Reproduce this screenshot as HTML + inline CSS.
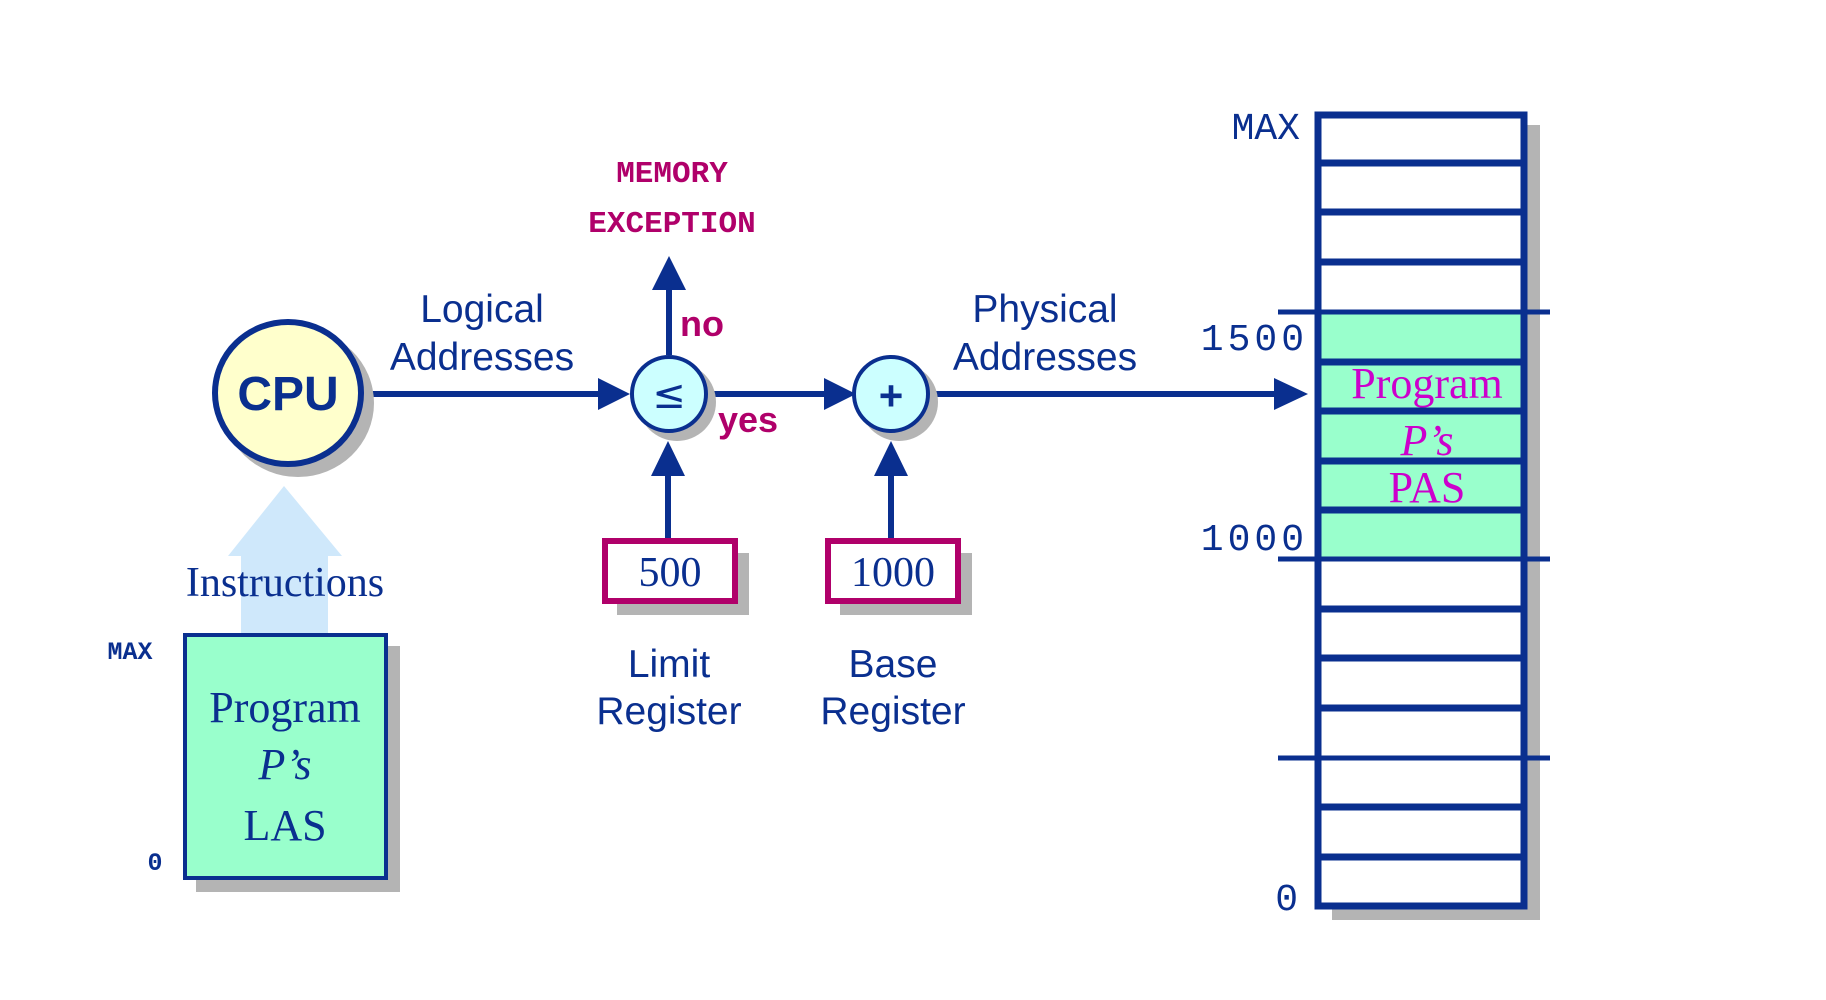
<!DOCTYPE html>
<html><head><meta charset="utf-8"><style>html,body{margin:0;padding:0;background:#fff}svg{display:block}</style></head>
<body>
<svg width="1826" height="1000" viewBox="0 0 1826 1000" xmlns="http://www.w3.org/2000/svg">
<defs>
<marker id="ah" markerWidth="6" markerHeight="6" refX="5" refY="3" orient="auto" markerUnits="strokeWidth"><path d="M0,0 L5,3 L0,6 z" fill="#0a2f8f"/></marker>
</defs>
<g fill="#0a2f8f" stroke="none">
<!-- arrows -->
<rect x="365" y="391" width="235" height="6"/><path d="M598,378 L630,394 L598,410z"/>
<rect x="708" y="391" width="120" height="6"/><path d="M824,378 L856,394 L824,410z"/>
<rect x="930" y="391" width="348" height="6"/><path d="M1274,378 L1308,394 L1274,410z"/>
<rect x="666" y="285" width="6" height="70"/><path d="M652,290 L669,256 L686,290z"/>
<rect x="665" y="470" width="6" height="70"/><path d="M651,476 L668,441 L685,476z"/>
<rect x="888" y="470" width="6" height="70"/><path d="M874,476 L891,441 L908,476z"/>
</g>
<!-- instructions arrow -->
<path d="M241,634 L241,556 L228,556 L284,486 L342,556 L328,556 L328,634z" fill="#cfe8fb"/>
<!-- CPU -->
<ellipse cx="298" cy="403" rx="76" ry="74" fill="#b4b4b4"/>
<ellipse cx="288" cy="393" rx="73" ry="71" fill="#ffffcc" stroke="#0a2f8f" stroke-width="6"/>
<text x="288" y="410" text-anchor="middle" font-family="Liberation Sans,sans-serif" font-weight="bold" font-size="48" fill="#0a2f8f">CPU</text>
<!-- compare circles -->
<circle cx="677" cy="402" r="39" fill="#b4b4b4"/>
<circle cx="669" cy="394" r="37" fill="#ccffff" stroke="#0a2f8f" stroke-width="4"/>
<text x="669" y="408" text-anchor="middle" font-family="DejaVu Sans,sans-serif" font-size="40" fill="#0a2f8f">≤</text>
<circle cx="899" cy="402" r="39" fill="#b4b4b4"/>
<circle cx="891" cy="394" r="37" fill="#ccffff" stroke="#0a2f8f" stroke-width="4"/>
<text x="891" y="410" text-anchor="middle" font-family="Liberation Sans,sans-serif" font-weight="bold" font-size="42" fill="#0a2f8f">+</text>
<!-- labels -->
<g font-family="Liberation Mono,monospace" font-weight="bold" font-size="31" fill="#b0006a" text-anchor="middle">
<text x="672" y="182">MEMORY</text><text x="672" y="232">EXCEPTION</text></g>
<g font-family="Liberation Sans,sans-serif" font-weight="bold" font-size="36" fill="#b0006a">
<text x="680" y="336">no</text><text x="718" y="432">yes</text></g>
<g font-family="Liberation Sans,sans-serif" font-size="39" fill="#0a2f8f" text-anchor="middle">
<text x="482" y="322">Logical</text><text x="482" y="370">Addresses</text>
<text x="1045" y="322">Physical</text><text x="1045" y="370">Addresses</text>
<text x="669" y="677">Limit</text><text x="669" y="724">Register</text>
<text x="893" y="677">Base</text><text x="893" y="724">Register</text></g>
<!-- registers -->
<rect x="617" y="553" width="132" height="62" fill="#b4b4b4"/>
<rect x="605" y="541" width="130" height="60" fill="#fff" stroke="#b0006a" stroke-width="6"/>
<rect x="840" y="553" width="132" height="62" fill="#b4b4b4"/>
<rect x="828" y="541" width="130" height="60" fill="#fff" stroke="#b0006a" stroke-width="6"/>
<g font-family="Liberation Serif,serif" font-size="42" fill="#0a2f8f" text-anchor="middle">
<text x="670" y="586">500</text><text x="893" y="586">1000</text></g>
<!-- LAS -->
<rect x="196" y="646" width="204" height="246" fill="#b4b4b4"/>
<rect x="185" y="635" width="201" height="243" fill="#99ffcc" stroke="#0a2f8f" stroke-width="4"/>
<g font-family="Liberation Serif,serif" font-size="44" fill="#0a2f8f" text-anchor="middle">
<text x="285" y="596" font-size="42">Instructions</text>
<text x="285" y="722">Program</text>
<text x="285" y="779" font-style="italic">P’s</text>
<text x="285" y="840">LAS</text></g>
<g font-family="Liberation Mono,monospace" font-weight="bold" font-size="25" fill="#0a2f8f" text-anchor="middle">
<text x="130" y="659">MAX</text><text x="155" y="870">0</text></g>
<!-- memory -->
<rect x="1332" y="125" width="208" height="795" fill="#b4b4b4"/>
<rect x="1318" y="115" width="206" height="791" fill="#fff"/>
<rect x="1318" y="312" width="206" height="247" fill="#99ffcc"/>
<g stroke="#0a2f8f" stroke-width="7">
<rect x="1318" y="115" width="206" height="791" fill="none"/>
<line x1="1318" y1="163" x2="1524" y2="163"/><line x1="1318" y1="212" x2="1524" y2="212"/>
<line x1="1318" y1="262" x2="1524" y2="262"/><line x1="1278" y1="312" x2="1550" y2="312" stroke-width="5"/>
<line x1="1318" y1="362" x2="1524" y2="362"/><line x1="1318" y1="411" x2="1524" y2="411"/>
<line x1="1318" y1="461" x2="1524" y2="461"/><line x1="1318" y1="510" x2="1524" y2="510"/>
<line x1="1278" y1="559" x2="1550" y2="559" stroke-width="5"/>
<line x1="1318" y1="609" x2="1524" y2="609"/><line x1="1318" y1="658" x2="1524" y2="658"/>
<line x1="1318" y1="708" x2="1524" y2="708"/><line x1="1278" y1="758" x2="1550" y2="758" stroke-width="5"/>
<line x1="1318" y1="807" x2="1524" y2="807"/><line x1="1318" y1="857" x2="1524" y2="857"/>
</g>
<g font-family="Liberation Serif,serif" font-size="44" fill="#cc00cc" text-anchor="middle">
<text x="1427" y="398">Program</text><text x="1427" y="455" font-style="italic">P’s</text><text x="1427" y="502">PAS</text></g>
<g font-family="Liberation Mono,monospace" font-size="38" fill="#0a2f8f" text-anchor="end">
<text x="1300" y="139">MAX</text><text x="1308" y="350" letter-spacing="4">1500</text>
<text x="1308" y="550" letter-spacing="4">1000</text><text x="1298" y="910">0</text></g>
</svg>
</body></html>
